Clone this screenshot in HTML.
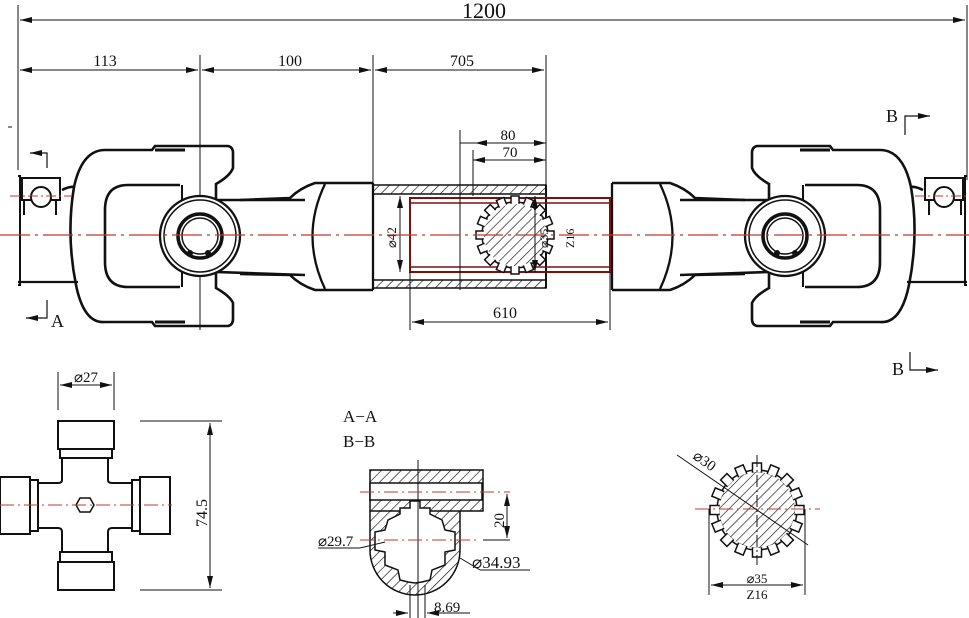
<!DOCTYPE html>
<html><head><meta charset="utf-8"><style>
html,body{margin:0;padding:0;background:#fff;}
svg{display:block;}
text{font-family:"Liberation Serif",serif;fill:#111;}
</style></head><body>
<svg width="969" height="618" viewBox="0 0 969 618" xmlns="http://www.w3.org/2000/svg">
<defs>
<marker id="ar" markerWidth="12" markerHeight="6" refX="12" refY="3" orient="auto-start-reverse" markerUnits="userSpaceOnUse"><path d="M0,0 L12,3 L0,6 z" fill="#111"/></marker>
<pattern id="h" width="7" height="7" patternUnits="userSpaceOnUse" patternTransform="rotate(45)"><line x1="0" y1="0" x2="0" y2="7" stroke="#111" stroke-width="1.3"/></pattern>
<g id="tA"><rect x="-4" y="-39" width="8" height="7" fill="#fff" stroke="#111" stroke-width="1.5"/><rect x="-3.2" y="-34" width="6.4" height="3" fill="#fff"/></g>
<g id="tB"><rect x="-4.5" y="-47" width="9" height="9" fill="#fff" stroke="#111" stroke-width="1.5"/><rect x="-3.7" y="-41" width="7.4" height="3.5" fill="#fff"/></g>
<g id="yoke">
 <path d="M18,176 L20,176 L20,285 L18,285" fill="none" stroke="#111" stroke-width="2"/>
 <rect x="22" y="178" width="38" height="22" fill="none" stroke="#111" stroke-width="2"/>
 <line x1="24" y1="200" x2="24" y2="215" stroke="#111" stroke-width="2"/>
 <line x1="56" y1="200" x2="56" y2="215" stroke="#111" stroke-width="2"/>
 <circle cx="41" cy="197" r="10" fill="#fff" stroke="#111" stroke-width="2"/>
 <line x1="18" y1="282" x2="78" y2="282" stroke="#111" stroke-width="2.3"/>
 <path d="M62,190 Q70,186 74,187 Q82,150 105,150 L152,150 L155,146 L228,146 Q233,147 233,153 L233,168 Q230,176 216,184 L216,200 L305,200" fill="none" stroke="#111" stroke-width="2.6"/>
 <path d="M74,187 Q66,235 76,285 Q84,324 105,322 L152,322 L155,326 L228,326 Q233,325 233,319 L233,303 Q230,296 216,288 L216,272 L305,275" fill="none" stroke="#111" stroke-width="2.6"/>
 <path d="M180,185 L128,185 Q105,185 105,210 L105,262 Q105,287 128,287 L180,287" fill="none" stroke="#111" stroke-width="2.6"/>
 <line x1="182" y1="185" x2="182" y2="200" stroke="#111" stroke-width="2"/>
 <line x1="216" y1="185" x2="216" y2="200" stroke="#111" stroke-width="2"/>
 <line x1="182" y1="272" x2="182" y2="287" stroke="#111" stroke-width="2"/>
 <line x1="216" y1="272" x2="216" y2="287" stroke="#111" stroke-width="2"/>
 <line x1="155" y1="150" x2="185" y2="150" stroke="#111" stroke-width="3"/>
 <line x1="155" y1="322" x2="185" y2="322" stroke="#111" stroke-width="3"/>
 <circle cx="200" cy="236" r="40" fill="#fff" stroke="#111" stroke-width="2.3"/>
 <circle cx="200" cy="236" r="36" fill="none" stroke="#111" stroke-width="1.5"/>
 <circle cx="200" cy="236" r="22" fill="none" stroke="#111" stroke-width="3.5"/>
 <circle cx="200" cy="236" r="18" fill="none" stroke="#111" stroke-width="1.5"/>
 <circle cx="190" cy="253" r="3" fill="#111"/><circle cx="208" cy="253" r="3" fill="#111"/>
 <path d="M240,200 L290,198 Q300,188 315,183 L373,183" fill="none" stroke="#111" stroke-width="2.6"/>
 <path d="M240,274 L290,275 Q300,285 315,290 L373,290" fill="none" stroke="#111" stroke-width="2.6"/>
 <path d="M325,184 Q300,236 325,289" fill="none" stroke="#111" stroke-width="2.3"/>
 <line x1="373" y1="183" x2="373" y2="290" stroke="#111" stroke-width="2.3"/>
</g>
</defs>

<line x1="18" y1="5" x2="18" y2="170" stroke="#111" stroke-width="1"/>
<line x1="967" y1="5" x2="967" y2="180" stroke="#111" stroke-width="1"/>
<line x1="20" y1="20" x2="965" y2="20" stroke="#111" stroke-width="1" marker-start="url(#ar)" marker-end="url(#ar)"/>
<text x="484" y="18" font-size="22" text-anchor="middle">1200</text>
<line x1="200" y1="55" x2="200" y2="330" stroke="#111" stroke-width="1"/>
<line x1="373" y1="55" x2="373" y2="185" stroke="#111" stroke-width="1"/>
<line x1="546" y1="55" x2="546" y2="185" stroke="#111" stroke-width="1"/>
<line x1="20" y1="70" x2="198" y2="70" stroke="#111" stroke-width="1" marker-start="url(#ar)" marker-end="url(#ar)"/>
<line x1="202" y1="70" x2="371" y2="70" stroke="#111" stroke-width="1" marker-start="url(#ar)" marker-end="url(#ar)"/>
<line x1="375" y1="70" x2="544" y2="70" stroke="#111" stroke-width="1" marker-start="url(#ar)" marker-end="url(#ar)"/>
<text x="105" y="66" font-size="16" text-anchor="middle">113</text>
<text x="290" y="66" font-size="16" text-anchor="middle">100</text>
<text x="462" y="66" font-size="16" text-anchor="middle">705</text>
<line x1="8" y1="127" x2="12" y2="127" stroke="#111" stroke-width="1"/>

<use href="#yoke"/>
<use href="#yoke" transform="translate(985,0) scale(-1,1)"/>

<rect x="373" y="185" width="173" height="9" fill="url(#h)" stroke="#111" stroke-width="1.5"/>
<rect x="373" y="280" width="173" height="8" fill="url(#h)" stroke="#111" stroke-width="1.5"/>
<line x1="546" y1="185" x2="546" y2="288" stroke="#111" stroke-width="2"/>
<rect x="410" y="198" width="200" height="74" fill="none" stroke="#7a1010" stroke-width="2"/>
<line x1="410" y1="203" x2="610" y2="203" stroke="#7a1010" stroke-width="1.5"/>
<line x1="410" y1="267" x2="610" y2="267" stroke="#7a1010" stroke-width="1.5"/>
<line x1="460" y1="130" x2="460" y2="290" stroke="#111" stroke-width="1"/>
<line x1="473" y1="150" x2="473" y2="196" stroke="#111" stroke-width="1"/>
<line x1="410" y1="272" x2="410" y2="330" stroke="#111" stroke-width="1"/>
<line x1="610" y1="272" x2="610" y2="330" stroke="#111" stroke-width="1"/>
<line x1="400" y1="196" x2="400" y2="272" stroke="#111" stroke-width="1" marker-start="url(#ar)" marker-end="url(#ar)"/>
<text font-size="13" transform="translate(396,248) rotate(-90)">⌀42</text>
<g transform="translate(515,235)">
 <circle r="33" fill="#fff" stroke="#111" stroke-width="1.5"/>
 <use href="#tA"/><use href="#tA" transform="rotate(22.5)"/><use href="#tA" transform="rotate(45)"/><use href="#tA" transform="rotate(67.5)"/><use href="#tA" transform="rotate(90)"/><use href="#tA" transform="rotate(112.5)"/><use href="#tA" transform="rotate(135)"/><use href="#tA" transform="rotate(157.5)"/><use href="#tA" transform="rotate(180)"/><use href="#tA" transform="rotate(202.5)"/><use href="#tA" transform="rotate(225)"/><use href="#tA" transform="rotate(247.5)"/><use href="#tA" transform="rotate(270)"/><use href="#tA" transform="rotate(292.5)"/><use href="#tA" transform="rotate(315)"/><use href="#tA" transform="rotate(337.5)"/>
 <circle r="31" fill="url(#h)"/>
</g>
<line x1="535" y1="196" x2="535" y2="272" stroke="#111" stroke-width="1" marker-start="url(#ar)" marker-end="url(#ar)"/>
<text font-size="12" transform="translate(548,248) rotate(-90)">⌀35</text>
<text font-size="12" transform="translate(574,248) rotate(-90)">Z16</text>
<line x1="475" y1="143" x2="546" y2="143" stroke="#111" stroke-width="1" marker-start="url(#ar)" marker-end="url(#ar)"/>
<line x1="460" y1="143" x2="475" y2="143" stroke="#111" stroke-width="1"/>
<text x="508" y="140" font-size="15" text-anchor="middle">80</text>
<line x1="473" y1="160" x2="546" y2="160" stroke="#111" stroke-width="1" marker-start="url(#ar)" marker-end="url(#ar)"/>
<text x="510" y="157" font-size="15" text-anchor="middle">70</text>
<line x1="412" y1="322" x2="608" y2="322" stroke="#111" stroke-width="1" marker-start="url(#ar)" marker-end="url(#ar)"/>
<text x="505" y="318" font-size="16" text-anchor="middle">610</text>

<line x1="0" y1="235" x2="969" y2="235" stroke="#c0392b" stroke-width="1.2" stroke-dasharray="30,5,3,5"/>
<line x1="10" y1="196" x2="72" y2="196" stroke="#c0392b" stroke-width="1" stroke-dasharray="10,3,2,3"/>
<line x1="915" y1="196" x2="969" y2="196" stroke="#c0392b" stroke-width="1" stroke-dasharray="10,3,2,3"/>

<path d="M47,168 L47,153 L30,153" fill="none" stroke="#111" stroke-width="1.2" marker-end="url(#ar)"/>
<path d="M47,300 L47,318 L26,318" fill="none" stroke="#111" stroke-width="1.2" marker-end="url(#ar)"/>
<text x="51" y="327" font-size="18">A</text>
<path d="M905,135 L905,116 L930,116" fill="none" stroke="#111" stroke-width="1.2" marker-end="url(#ar)"/>
<text x="886" y="122" font-size="18">B</text>
<path d="M910,352 L910,370 L938,370" fill="none" stroke="#111" stroke-width="1.2" marker-end="url(#ar)"/>
<text x="892" y="375" font-size="18">B</text>

<g stroke="#111" stroke-width="2" fill="#fff">
 <path d="M62,458 L62,480 Q62,483 58,483 L38,483 L38,528 L58,528 Q62,528 62,532 L62,552 L108,552 L108,532 Q108,528 112,528 L137,528 L137,483 L112,483 Q108,483 108,480 L108,458 Z"/>
 <rect x="58" y="421" width="56" height="28"/>
 <rect x="60" y="449" width="52" height="9"/>
 <rect x="58" y="562" width="56" height="28"/>
 <rect x="60" y="552" width="52" height="10"/>
 <rect x="0" y="477" width="30" height="57"/>
 <rect x="30" y="480" width="8" height="51"/>
 <rect x="140" y="477" width="30" height="57"/>
 <rect x="132" y="480" width="8" height="51"/>
 <polygon points="80,498 90,498 94,505 90,512 80,512 76,505" stroke-width="1.5"/>
</g>
<line x1="0" y1="505" x2="172" y2="505" stroke="#c0392b" stroke-width="1" stroke-dasharray="14,4,2,4"/>
<line x1="58" y1="372" x2="58" y2="410" stroke="#111" stroke-width="1"/>
<line x1="114" y1="372" x2="114" y2="410" stroke="#111" stroke-width="1"/>
<line x1="60" y1="385" x2="112" y2="385" stroke="#111" stroke-width="1" marker-start="url(#ar)" marker-end="url(#ar)"/>
<text x="86" y="382" font-size="15" text-anchor="middle">⌀27</text>
<line x1="140" y1="421" x2="222" y2="421" stroke="#111" stroke-width="1"/>
<line x1="140" y1="590" x2="222" y2="590" stroke="#111" stroke-width="1"/>
<line x1="210" y1="423" x2="210" y2="588" stroke="#111" stroke-width="1" marker-start="url(#ar)" marker-end="url(#ar)"/>
<text font-size="16" transform="translate(207,527) rotate(-90)">74.5</text>

<text x="343" y="422" font-size="17">A−A</text>
<text x="343" y="447" font-size="17">B−B</text>
<path d="M370,470 L483,470 L483,511 L468,511 L418,511 L370,511 Z" fill="url(#h)" stroke="#111" stroke-width="1.5"/>
<rect x="370" y="483" width="112" height="17" fill="#fff" stroke="#111" stroke-width="1.5"/>
<path d="M370,511 L370,550 A45,45 0 0 0 460,550 L460,511" fill="url(#h)" stroke="#111" stroke-width="1.5"/>
<path d="M415,501 L420,501 L420,508 L430,508 L430,514 L442,520 L445,530 L455,532 L455,550 L445,552 L445,565 L432,570 L430,580 L422,582 L415,583 L408,582 L400,580 L398,570 L385,565 L385,552 L375,550 L375,532 L385,530 L388,520 L400,514 L400,508 L410,508 L410,501 Z" fill="#fff" stroke="#111" stroke-width="1.5"/>
<line x1="418" y1="460" x2="418" y2="618" stroke="#111" stroke-width="1"/>
<line x1="360" y1="492" x2="510" y2="492" stroke="#c0392b" stroke-width="1" stroke-dasharray="14,4,2,4"/>
<line x1="360" y1="540" x2="480" y2="540" stroke="#c0392b" stroke-width="1" stroke-dasharray="14,4,2,4"/>
<line x1="483" y1="540" x2="510" y2="540" stroke="#111" stroke-width="1"/>
<line x1="507" y1="494" x2="507" y2="538" stroke="#111" stroke-width="1" marker-start="url(#ar)" marker-end="url(#ar)"/>
<text font-size="15" transform="translate(504,528) rotate(-90)">20</text>
<line x1="318" y1="548" x2="360" y2="548" stroke="#111" stroke-width="1"/>
<line x1="360" y1="548" x2="385" y2="542" stroke="#111" stroke-width="1"/>
<text x="318" y="546" font-size="15">⌀29.7</text>
<line x1="460" y1="558" x2="480" y2="570" stroke="#111" stroke-width="1"/>
<line x1="480" y1="570" x2="530" y2="570" stroke="#111" stroke-width="1"/>
<text x="472" y="568" font-size="17">⌀34.93</text>
<line x1="410" y1="585" x2="410" y2="618" stroke="#111" stroke-width="1"/>
<line x1="425" y1="585" x2="425" y2="618" stroke="#111" stroke-width="1"/>
<line x1="393" y1="613" x2="408" y2="613" stroke="#111" stroke-width="1" marker-end="url(#ar)"/>
<line x1="470" y1="613" x2="427" y2="613" stroke="#111" stroke-width="1" marker-end="url(#ar)"/>
<text x="434" y="612" font-size="15">8.69</text>

<g transform="translate(757,510)">
 <circle r="40" fill="#fff" stroke="#111" stroke-width="1.5"/>
 <use href="#tB"/><use href="#tB" transform="rotate(22.5)"/><use href="#tB" transform="rotate(45)"/><use href="#tB" transform="rotate(67.5)"/><use href="#tB" transform="rotate(90)"/><use href="#tB" transform="rotate(112.5)"/><use href="#tB" transform="rotate(135)"/><use href="#tB" transform="rotate(157.5)"/><use href="#tB" transform="rotate(180)"/><use href="#tB" transform="rotate(202.5)"/><use href="#tB" transform="rotate(225)"/><use href="#tB" transform="rotate(247.5)"/><use href="#tB" transform="rotate(270)"/><use href="#tB" transform="rotate(292.5)"/><use href="#tB" transform="rotate(315)"/><use href="#tB" transform="rotate(337.5)"/>
 <circle r="38" fill="url(#h)"/>
</g>
<line x1="757" y1="455" x2="757" y2="565" stroke="#111" stroke-width="1" stroke-dasharray="12,3,2,3"/>
<line x1="695" y1="509" x2="820" y2="509" stroke="#c0392b" stroke-width="1" stroke-dasharray="14,4,2,4"/>
<line x1="677" y1="455" x2="808" y2="545" stroke="#111" stroke-width="1"/>
<text font-size="15" transform="translate(692,458) rotate(35)">⌀30</text>
<line x1="709" y1="509" x2="709" y2="595" stroke="#111" stroke-width="1"/>
<line x1="805" y1="509" x2="805" y2="595" stroke="#111" stroke-width="1"/>
<line x1="711" y1="585" x2="803" y2="585" stroke="#111" stroke-width="1" marker-start="url(#ar)" marker-end="url(#ar)"/>
<text x="757" y="583" font-size="13" text-anchor="middle">⌀35</text>
<text x="757" y="599" font-size="13" text-anchor="middle">Z16</text>
</svg>
</body></html>
